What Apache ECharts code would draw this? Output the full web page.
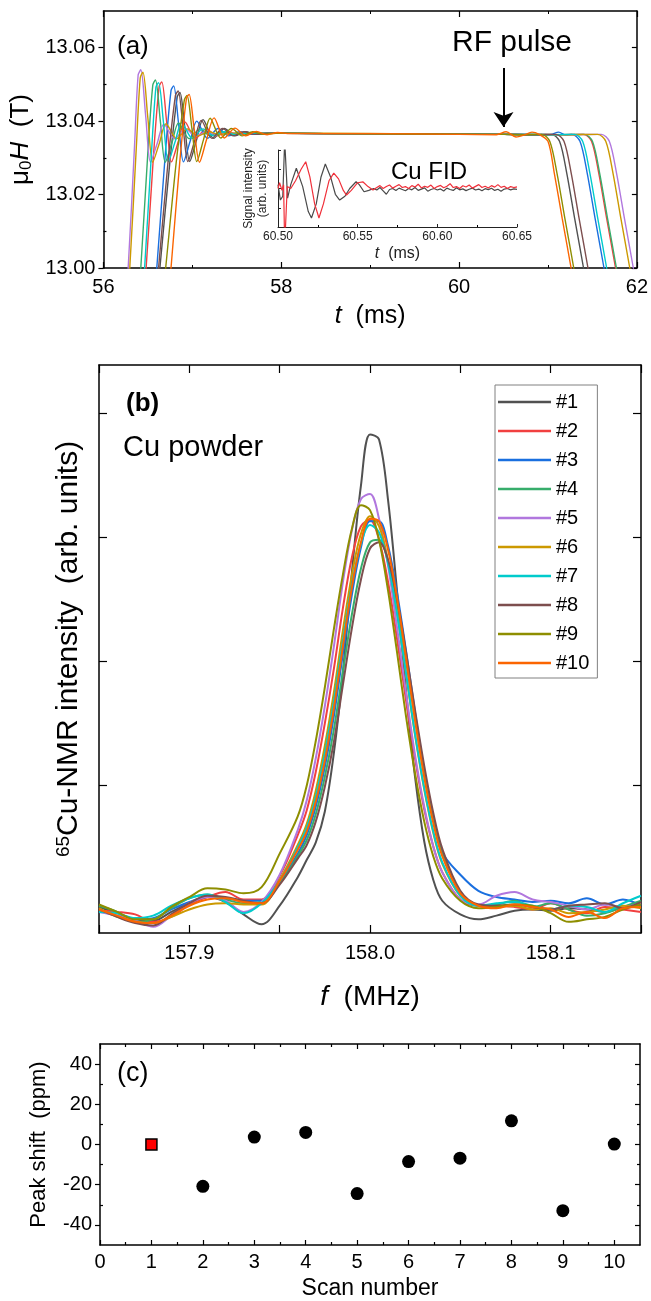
<!DOCTYPE html>
<html>
<head>
<meta charset="utf-8">
<title>Cu NMR field stability</title>
<script src="https://cdn.jsdelivr.net/npm/echarts@6/dist/echarts.min.js"></script>
<style>
	html, body { margin: 0; padding: 0; background: #fff; }
	#main { width: 651px; height: 1301px; }
</style>
</head>
<body>
<div id="main"></div>
<script>
// scan labels + colours (Origin default line palette)
var scanNames = ['#1', '#2', '#3', '#4', '#5', '#6', '#7', '#8', '#9', '#10'];
var scanColors = ['#515151', '#f14040', '#1a6fdf', '#37ad6b', '#b177de', '#cc9900', '#00cbcc', '#7d4e4e', '#8e8e00', '#fb6501'];

// (a) field pulses, [t (ms), mu0H (T)] for each scan
var sweep1 = [[56.61, 12.994], [56.635, 13.0], [56.75, 13.0296], [56.83, 13.0466], [56.86, 13.0478], [56.915, 13.0384], [56.97, 13.029], [57.045, 13.0347], [57.12, 13.0404], [57.24, 13.0353], [57.36, 13.0380], [57.48, 13.0360], [57.60, 13.0371], [57.72, 13.0364], [57.86, 13.0367], [58.5, 13.0366], [59.5, 13.0365], [60.5, 13.0364], [60.8, 13.0363], [61.04, 13.0364], [61.13, 13.0345], [61.21, 13.026], [61.30, 13.0135], [61.40, 13.0], [61.44, 12.994]];
var sweep2 = [[56.455, 12.994], [56.48, 13.0], [56.565, 13.0314], [56.626, 13.0494], [56.656, 13.0507], [56.711, 13.0398], [56.766, 13.0289], [56.841, 13.0344], [56.916, 13.0398], [57.036, 13.0353], [57.156, 13.0379], [57.276, 13.0360], [57.396, 13.0371], [57.516, 13.0364], [57.66, 13.0367], [58.5, 13.0366], [59.5, 13.0365], [60.5, 13.0364], [61.1, 13.0363], [61.40, 13.0364], [61.49, 13.0345], [61.57, 13.026], [61.66, 13.0135], [61.76, 13.0], [61.80, 12.994]];
var sweep3 = [[56.575, 12.994], [56.60, 13.0], [56.695, 13.0308], [56.76, 13.0483], [56.79, 13.0496], [56.845, 13.0393], [56.90, 13.0289], [56.975, 13.0345], [57.05, 13.0400], [57.17, 13.0353], [57.29, 13.0380], [57.41, 13.0360], [57.53, 13.0371], [57.65, 13.0364], [57.79, 13.0367], [58.5, 13.0366], [59.5, 13.0365], [60.5, 13.0364], [61.02, 13.0363], [61.12, 13.0370], [61.2, 13.0362], [61.27, 13.0364], [61.36, 13.0345], [61.44, 13.026], [61.53, 13.0135], [61.63, 13.0], [61.67, 12.994]];
var sweep4 = [[56.395, 12.994], [56.42, 13.0], [56.50, 13.0317], [56.555, 13.0498], [56.585, 13.0512], [56.64, 13.040], [56.695, 13.0288], [56.77, 13.0341], [56.845, 13.0395], [56.965, 13.0352], [57.085, 13.0379], [57.205, 13.0360], [57.325, 13.0371], [57.445, 13.0364], [57.58, 13.0367], [58.5, 13.0366], [59.5, 13.0365], [60.5, 13.0364], [61.1, 13.0363], [61.41, 13.0364], [61.50, 13.0345], [61.58, 13.026], [61.67, 13.0135], [61.77, 13.0], [61.81, 12.994]];
var sweep5 = [[56.25, 12.994], [56.278, 13.0], [56.35, 13.0335], [56.39, 13.0525], [56.42, 13.054], [56.475, 13.0414], [56.53, 13.0288], [56.605, 13.0340], [56.68, 13.0392], [56.80, 13.0352], [56.92, 13.0379], [57.04, 13.0360], [57.16, 13.0371], [57.28, 13.0364], [57.42, 13.0367], [58.5, 13.0366], [59.5, 13.0365], [60.5, 13.0364], [61.25, 13.0363], [61.6, 13.0364], [61.69, 13.0345], [61.77, 13.026], [61.86, 13.0135], [61.96, 13.0], [62.0, 12.994]];
var sweep6 = [[56.27, 12.994], [56.296, 13.0], [56.37, 13.033], [56.414, 13.0518], [56.444, 13.0533], [56.499, 13.041], [56.554, 13.0288], [56.629, 13.0340], [56.704, 13.0393], [56.824, 13.0352], [56.944, 13.0379], [57.064, 13.0360], [57.184, 13.0371], [57.304, 13.0364], [57.44, 13.0367], [58.5, 13.0367], [59.5, 13.0365], [60.5, 13.0364], [61.2, 13.0363], [61.56, 13.0364], [61.65, 13.0345], [61.73, 13.026], [61.82, 13.0135], [61.92, 13.0], [61.96, 12.994]];
var sweep7 = [[56.44, 12.994], [56.463, 13.0], [56.54, 13.0313], [56.59, 13.0492], [56.62, 13.0505], [56.675, 13.0397], [56.73, 13.029], [56.805, 13.0343], [56.88, 13.0396], [57.0, 13.0353], [57.12, 13.0379], [57.24, 13.0360], [57.36, 13.0371], [57.48, 13.0364], [57.62, 13.0367], [58.5, 13.0366], [59.5, 13.0365], [60.5, 13.0364], [61.0, 13.0363], [61.30, 13.0364], [61.39, 13.0345], [61.47, 13.026], [61.56, 13.0135], [61.66, 13.0], [61.70, 12.994]];
var sweep8 = [[56.595, 12.994], [56.62, 13.0], [56.73, 13.0299], [56.81, 13.047], [56.84, 13.0482], [56.895, 13.0386], [56.95, 13.029], [57.025, 13.0346], [57.10, 13.0402], [57.22, 13.0353], [57.34, 13.0380], [57.46, 13.0360], [57.58, 13.0371], [57.70, 13.0364], [57.84, 13.0367], [58.5, 13.0366], [59.5, 13.0365], [60.5, 13.0364], [60.85, 13.0363], [61.09, 13.0364], [61.18, 13.0345], [61.26, 13.026], [61.35, 13.0135], [61.45, 13.0], [61.49, 12.994]];
var sweep9 = [[56.675, 12.994], [56.70, 13.0], [56.82, 13.0291], [56.91, 13.0458], [56.94, 13.047], [56.995, 13.038], [57.05, 13.029], [57.125, 13.0349], [57.20, 13.0408], [57.32, 13.0354], [57.44, 13.0380], [57.56, 13.0360], [57.68, 13.0371], [57.80, 13.0364], [57.94, 13.0367], [58.5, 13.0366], [59.5, 13.0365], [60.5, 13.0364], [60.7, 13.0363], [60.93, 13.0364], [61.02, 13.0345], [61.10, 13.026], [61.19, 13.0135], [61.29, 13.0], [61.33, 12.994]];
var sweep10 = [[56.735, 12.994], [56.76, 13.0], [56.86, 13.0293], [56.933, 13.0461], [56.963, 13.0473], [57.02, 13.038], [57.08, 13.0288], [57.16, 13.035], [57.244, 13.0409], [57.36, 13.0354], [57.48, 13.0381], [57.60, 13.0360], [57.72, 13.0372], [57.84, 13.0363], [57.96, 13.0369], [58.1, 13.0366], [59.0, 13.0366], [60.0, 13.0364], [60.42, 13.0363], [60.53, 13.0371], [60.64, 13.0357], [60.73, 13.0362], [60.82, 13.0370], [60.90, 13.0364], [61.00, 13.0345], [61.07, 13.026], [61.16, 13.0135], [61.26, 13.0], [61.30, 12.994]];

// inset: Cu FID, [t (ms), signal]
var fidGray = [[60.500, 2.2], [60.5015, 1.4], [60.503, 1.6], [60.5042, 4.5], [60.5052, 4.5], [60.506, 1.5], [60.508, 2.2], [60.5115, 3.05], [60.5155, 2.1], [60.519, 0.8], [60.521, 0.47], [60.524, 1.2], [60.527, 2.6], [60.5297, 3.27], [60.533, 2.6], [60.536, 1.7], [60.5387, 1.4], [60.542, 1.6], [60.545, 2.0], [60.549, 2.35], [60.551, 2.2], [60.554, 1.83], [60.557, 1.9], [60.560, 2.0], [60.562, 1.92], [60.564, 2.05], [60.566, 1.88], [60.568, 1.7], [60.570, 1.95], [60.572, 2.0], [60.574, 1.9], [60.576, 2.02], [60.578, 1.95], [60.580, 1.88], [60.582, 2.0], [60.584, 1.93], [60.586, 2.05], [60.588, 1.9], [60.590, 1.97], [60.592, 2.03], [60.594, 1.86], [60.596, 1.95], [60.598, 2.0], [60.600, 1.92], [60.602, 1.98], [60.604, 1.87], [60.606, 2.02], [60.608, 1.95], [60.610, 1.9], [60.612, 2.04], [60.614, 1.93], [60.616, 1.98], [60.618, 1.89], [60.620, 1.96], [60.622, 2.02], [60.624, 1.92], [60.626, 1.97], [60.628, 1.88], [60.630, 1.99], [60.632, 1.94], [60.634, 2.01], [60.636, 1.9], [60.638, 1.96], [60.640, 1.86], [60.642, 1.97], [60.644, 2.0], [60.646, 1.93], [60.648, 1.98], [60.650, 1.95]];
var fidRed = [[60.500, 2.0], [60.501, 2.3], [60.5025, 1.9], [60.5035, 2.2], [60.5042, -1], [60.5052, -1], [60.5058, 2.1], [60.508, 2.0], [60.511, 2.4], [60.5145, 3.0], [60.5174, 3.39], [60.520, 2.6], [60.523, 1.2], [60.5257, 0.47], [60.5285, 1.2], [60.532, 2.4], [60.535, 2.8], [60.538, 2.5], [60.541, 1.9], [60.543, 1.66], [60.546, 1.9], [60.550, 2.3], [60.5534, 2.34], [60.5565, 2.1], [60.5596, 1.92], [60.562, 2.05], [60.564, 2.15], [60.566, 2.0], [60.568, 2.1], [60.570, 2.18], [60.572, 2.02], [60.574, 2.12], [60.576, 2.2], [60.578, 2.05], [60.580, 2.1], [60.582, 2.0], [60.584, 2.15], [60.586, 2.08], [60.588, 2.22], [60.590, 2.03], [60.592, 2.12], [60.594, 2.06], [60.596, 2.18], [60.598, 2.0], [60.600, 2.1], [60.602, 2.16], [60.604, 2.04], [60.606, 2.12], [60.608, 2.25], [60.610, 2.05], [60.612, 2.1], [60.614, 2.0], [60.616, 2.14], [60.618, 2.08], [60.620, 2.18], [60.622, 2.02], [60.624, 2.11], [60.626, 2.2], [60.628, 2.05], [60.630, 2.12], [60.632, 2.03], [60.634, 2.15], [60.636, 2.07], [60.638, 2.2], [60.640, 2.06], [60.642, 2.12], [60.644, 2.0], [60.646, 2.1], [60.648, 2.05], [60.650, 2.08]];

// (b) 65Cu NMR spectra
var freqMHz = [157.85, 157.86, 157.87, 157.88, 157.89, 157.90, 157.91, 157.92, 157.93, 157.94, 157.95, 157.96, 157.965, 157.97, 157.975, 157.98, 157.985, 157.99, 157.995, 158.00, 158.005, 158.01, 158.015, 158.02, 158.025, 158.03, 158.035, 158.04, 158.05, 158.06, 158.07, 158.08, 158.09, 158.10, 158.11, 158.12, 158.13, 158.14, 158.15];
var nmr1 = [0.02, -0.03, -0.08, -0.09, -0.02, 0.05, 0.10, 0.06, -0.04, -0.12, 0.03, 0.26, 0.40, 0.54, 0.79, 1.26, 1.91, 2.72, 3.42, 3.83, 3.79, 3.30, 2.56, 1.75, 1.06, 0.55, 0.24, 0.07, -0.04, -0.08, -0.05, -0.01, 0.0, -0.01, 0.01, 0.0, -0.02, 0.02, 0.05];
var nmr2 = [-0.01, -0.02, -0.04, -0.10, -0.06, 0.04, 0.10, 0.14, 0.08, 0.08, 0.27, 0.60, 0.80, 1.11, 1.50, 1.94, 2.43, 2.84, 3.09, 3.14, 2.98, 2.64, 2.18, 1.68, 1.21, 0.81, 0.51, 0.30, 0.08, 0.03, 0.03, 0.02, 0.0, 0.05, 0.0, -0.03, 0.02, 0.0, -0.02];
var nmr3 = [-0.01, -0.05, -0.08, -0.07, 0.0, 0.06, 0.10, 0.09, 0.07, 0.07, 0.22, 0.45, 0.60, 0.83, 1.15, 1.56, 2.06, 2.54, 2.92, 3.13, 3.13, 2.93, 2.55, 2.08, 1.58, 1.12, 0.74, 0.46, 0.28, 0.15, 0.10, 0.08, 0.06, 0.07, 0.05, 0.09, 0.04, 0.08, 0.03];
var nmr4 = [0.03, -0.02, -0.10, -0.08, 0.01, 0.09, 0.12, 0.08, 0.05, 0.06, 0.21, 0.43, 0.56, 0.77, 1.07, 1.45, 1.92, 2.38, 2.75, 2.96, 2.98, 2.80, 2.45, 2.00, 1.53, 1.09, 0.72, 0.45, 0.14, 0.03, 0.04, 0.07, 0.02, 0.05, 0.0, -0.05, -0.03, 0.02, 0.07];
var nmr5 = [-0.02, -0.05, -0.09, -0.14, -0.05, 0.05, 0.10, 0.07, -0.02, 0.06, 0.28, 0.64, 0.88, 1.22, 1.64, 2.12, 2.64, 3.06, 3.31, 3.35, 3.15, 2.77, 2.27, 1.74, 1.24, 0.83, 0.51, 0.30, 0.08, 0.04, 0.11, 0.14, 0.08, 0.06, 0.03, 0.0, 0.04, 0.02, 0.05];
var nmr6 = [0.01, -0.06, -0.10, -0.11, -0.06, 0.0, 0.04, 0.05, 0.04, 0.04, 0.24, 0.52, 0.69, 0.96, 1.32, 1.75, 2.25, 2.70, 3.03, 3.17, 3.09, 2.81, 2.39, 1.89, 1.40, 0.97, 0.62, 0.37, 0.11, 0.03, 0.02, 0.03, 0.0, 0.01, -0.03, -0.02, 0.0, 0.03, 0.01];
var nmr7 = [-0.02, -0.03, -0.07, -0.05, 0.03, 0.09, 0.12, 0.06, -0.03, 0.05, 0.23, 0.50, 0.66, 0.91, 1.26, 1.68, 2.17, 2.62, 2.95, 3.10, 3.04, 2.79, 2.38, 1.90, 1.41, 0.98, 0.63, 0.38, 0.11, 0.03, 0.05, 0.06, 0.03, 0.0, 0.03, 0.02, -0.02, 0.05, 0.11];
var nmr8 = [0.0, -0.06, -0.11, -0.13, -0.04, 0.05, 0.11, 0.10, 0.07, 0.05, 0.20, 0.41, 0.52, 0.71, 0.99, 1.35, 1.81, 2.27, 2.66, 2.91, 2.96, 2.82, 2.50, 2.07, 1.60, 1.16, 0.78, 0.49, 0.15, 0.04, 0.03, 0.04, 0.02, 0.0, 0.03, 0.04, 0.05, 0.01, 0.06];
var nmr9 = [0.04, -0.02, -0.08, -0.08, 0.02, 0.10, 0.17, 0.16, 0.13, 0.18, 0.45, 0.75, 1.00, 1.36, 1.79, 2.26, 2.70, 3.07, 3.26, 3.22, 2.98, 2.57, 2.07, 1.55, 1.09, 0.71, 0.43, 0.25, 0.07, 0.01, 0.02, 0.04, 0.03, -0.03, -0.10, -0.08, -0.06, 0.0, 0.04];
var nmr10 = [0.0, -0.05, -0.10, -0.11, -0.05, 0.03, 0.08, 0.09, 0.06, 0.05, 0.23, 0.48, 0.63, 0.87, 1.20, 1.62, 2.12, 2.60, 2.96, 3.15, 3.13, 2.90, 2.51, 2.02, 1.52, 1.07, 0.70, 0.43, 0.13, 0.03, 0.01, 0.04, 0.02, 0.0, -0.06, -0.02, -0.07, 0.01, 0.02];

// (c) peak shift per scan
var scanNumber = [1, 2, 3, 4, 5, 6, 7, 8, 9, 10];
var peakShift = [0, -20.8, 3.7, 6.0, -24.4, -8.5, -6.8, 11.8, -32.9, 0.2];

// tick positions
var fieldTicks = [13.00, 13.02, 13.04, 13.06];
var fieldMinor = [13.01, 13.03, 13.05];
var nmrTicks = [1, 2, 3, 4];
var shiftTicks = [-40, -20, 0, 20, 40];
var shiftMinor = [-30, -10, 10, 30];
var scanTicks = [0, 1, 2, 3, 4, 5, 6, 7, 8, 9, 10];
var scanMinor = [0.5, 1.5, 2.5, 3.5, 4.5, 5.5, 6.5, 7.5, 8.5, 9.5];

var font = "'Liberation Sans', Arial, sans-serif";
var black = { color: '#000', width: 1.5 };

function frame(o) {
	var ax = {
		type: 'value',
		gridIndex: o.grid,
		position: o.pos,
		min: o.min,
		max: o.max,
		axisLine: { show: o.line !== false, onZero: false, lineStyle: black },
		axisTick: { show: true, inside: o.inside !== false, length: o.tick || 6, lineStyle: { color: '#000', width: 1.2 } },
		axisLabel: { show: false },
		splitLine: { show: false }
	};
	if(o.interval) ax.interval = o.interval;
	if(o.ticks) ax.axisTick.customValues = o.ticks;
	if(o.minor) ax.minorTick = { show: true, splitNumber: 2, length: 3, lineStyle: { color: '#000', width: 1 } };
	return ax;
}

var xAxes = [];
var yAxes = [];

// (a) main field plot
var ax = frame({ grid: 0, pos: 'bottom', min: 56, max: 62, interval: 2, minor: true });
ax.axisLabel = { show: true, color: '#000', fontSize: 20, fontFamily: font, margin: 9 };
ax.name = '{i|t}  (ms)';
ax.nameLocation = 'middle';
ax.nameGap = 36;
ax.nameTextStyle = { color: '#000', fontSize: 25, fontFamily: font, rich: { i: { fontSize: 25, fontStyle: 'italic', fontFamily: font } } };
xAxes.push(ax); // 0
xAxes.push(frame({ grid: 0, pos: 'top', min: 56, max: 62, interval: 2, minor: true })); // 1

ax = frame({ grid: 0, pos: 'left', min: 13.0, max: 13.07, ticks: fieldTicks, inside: false, tick: 5 });
ax.axisLabel = { show: true, customValues: fieldTicks, color: '#000', fontSize: 20, fontFamily: font, margin: 8, formatter: function(v) { return v.toFixed(2); } };
ax.name = '{m|μ}{s|0}{i|H}  (T)';
ax.nameLocation = 'middle';
ax.nameRotate = 90;
ax.nameGap = 54;
ax.nameTextStyle = { color: '#000', fontSize: 26, fontFamily: font, rich: {
	m: { fontSize: 26, fontFamily: font },
	s: { fontSize: 17, fontFamily: font, verticalAlign: 'bottom', padding: [10, 0, 0, 0] },
	i: { fontSize: 26, fontStyle: 'italic', fontFamily: font }
} };
yAxes.push(ax); // 0
yAxes.push(frame({ grid: 0, pos: 'right', min: 13.0, max: 13.07, ticks: fieldTicks, tick: 5 })); // 1
yAxes.push(frame({ grid: 0, pos: 'left', min: 13.0, max: 13.07, ticks: fieldMinor, tick: 3, line: false })); // 2
yAxes.push(frame({ grid: 0, pos: 'right', min: 13.0, max: 13.07, ticks: fieldMinor, tick: 3, line: false })); // 3

// inset: Cu FID
ax = frame({ grid: 1, pos: 'bottom', min: 60.5, max: 60.65, interval: 0.05, tick: 3, minor: true });
ax.axisLine.lineStyle = { color: '#222', width: 1 };
ax.axisTick.lineStyle = { color: '#222', width: 1 };
ax.minorTick.length = 2;
ax.axisLabel = { show: true, color: '#222', fontSize: 12, fontFamily: font, margin: 4, formatter: function(v) { return v.toFixed(2); } };
ax.name = '{i|t}  (ms)';
ax.nameLocation = 'middle';
ax.nameGap = 19;
ax.nameTextStyle = { color: '#222', fontSize: 16, fontFamily: font, rich: { i: { fontSize: 16, fontStyle: 'italic', fontFamily: font } } };
xAxes.push(ax); // 2
ax = frame({ grid: 1, pos: 'left', min: 0, max: 4, interval: 1, tick: 3 });
ax.axisLine.lineStyle = { color: '#222', width: 1 };
ax.axisTick.lineStyle = { color: '#222', width: 1 };
ax.name = 'Signal intensity\n(arb. units)';
ax.nameLocation = 'middle';
ax.nameRotate = 90;
ax.nameGap = 8;
ax.nameTextStyle = { color: '#222', fontSize: 12, lineHeight: 14, fontFamily: font };
yAxes.push(ax); // 4

// (b) NMR spectra
ax = frame({ grid: 2, pos: 'bottom', min: 157.85, max: 158.15, interval: 0.05, tick: 8 });
ax.axisLabel = { show: true, color: '#000', fontSize: 20, fontFamily: font, margin: 10, formatter: function(v) {
	return Math.round(v * 100) % 10 === 0 ? v.toFixed(1) : '';
} };
ax.name = '{i|f}  (MHz)';
ax.nameLocation = 'middle';
ax.nameGap = 50;
ax.nameTextStyle = { color: '#000', fontSize: 28, fontFamily: font, rich: { i: { fontSize: 28, fontStyle: 'italic', fontFamily: font } } };
xAxes.push(ax); // 3
xAxes.push(frame({ grid: 2, pos: 'top', min: 157.85, max: 158.15, interval: 0.05, tick: 8 })); // 4

ax = frame({ grid: 2, pos: 'left', min: -0.19, max: 4.39, ticks: nmrTicks, tick: 8 });
ax.name = '{sup|65}Cu-NMR intensity  (arb. units)';
ax.nameLocation = 'middle';
ax.nameRotate = 90;
ax.nameGap = 15;
ax.nameTextStyle = { color: '#000', fontSize: 30, fontFamily: font, rich: { sup: { fontSize: 19, fontFamily: font, verticalAlign: 'top', padding: [0, 0, 11, 0] } } };
yAxes.push(ax); // 5
yAxes.push(frame({ grid: 2, pos: 'right', min: -0.19, max: 4.39, ticks: nmrTicks, tick: 8 })); // 6

// (c) peak shift
ax = frame({ grid: 3, pos: 'bottom', min: 0, max: 10.5, ticks: scanTicks, tick: 5 });
ax.axisLabel = { show: true, customValues: scanTicks, color: '#000', fontSize: 20, fontFamily: font, margin: 7 };
ax.name = 'Scan number';
ax.nameLocation = 'middle';
ax.nameGap = 32;
ax.nameTextStyle = { color: '#000', fontSize: 23, fontFamily: font };
xAxes.push(ax); // 5
xAxes.push(frame({ grid: 3, pos: 'top', min: 0, max: 10.5, ticks: scanTicks, tick: 5 })); // 6
xAxes.push(frame({ grid: 3, pos: 'bottom', min: 0, max: 10.5, ticks: scanMinor, tick: 3, line: false })); // 7
xAxes.push(frame({ grid: 3, pos: 'top', min: 0, max: 10.5, ticks: scanMinor, tick: 3, line: false })); // 8

ax = frame({ grid: 3, pos: 'left', min: -50, max: 50, ticks: shiftTicks, inside: false, tick: 5 });
ax.axisLabel = { show: true, customValues: shiftTicks, color: '#000', fontSize: 20, fontFamily: font, margin: 8 };
ax.name = 'Peak shift  (ppm)';
ax.nameLocation = 'middle';
ax.nameRotate = 90;
ax.nameGap = 50;
ax.nameTextStyle = { color: '#000', fontSize: 22, fontFamily: font };
yAxes.push(ax); // 7
yAxes.push(frame({ grid: 3, pos: 'right', min: -50, max: 50, ticks: shiftTicks, tick: 5 })); // 8
yAxes.push(frame({ grid: 3, pos: 'left', min: -50, max: 50, ticks: shiftMinor, tick: 3, line: false })); // 9
yAxes.push(frame({ grid: 3, pos: 'right', min: -50, max: 50, ticks: shiftMinor, tick: 3, line: false })); // 10

// series
var series = [];
var sweeps = [sweep1, sweep2, sweep3, sweep4, sweep5, sweep6, sweep7, sweep8, sweep9, sweep10];
sweeps.forEach(function(item, index) {
	series.push({
		name: 'pulse ' + scanNames[index],
		type: 'line',
		xAxisIndex: 0,
		yAxisIndex: 0,
		data: item,
		smooth: 0.3,
		symbol: 'none',
		lineStyle: { width: 1.4, color: scanColors[index] },
		itemStyle: { color: scanColors[index] }
	});
});
// RF pulse arrow
series[9].markLine = {
	silent: true,
	symbol: ['none', 'arrow'],
	symbolSize: 15,
	label: { show: false },
	lineStyle: { color: '#000', width: 2, type: 'solid' },
	data: [[{ coord: [60.5, 13.0545] }, { coord: [60.5, 13.0384] }]]
};

series.push({
	type: 'line', xAxisIndex: 2, yAxisIndex: 4, data: fidGray, symbol: 'none',
	lineStyle: { width: 1.2, color: '#4a4a4a' }, itemStyle: { color: '#4a4a4a' }
});
series.push({
	type: 'line', xAxisIndex: 2, yAxisIndex: 4, data: fidRed, symbol: 'none',
	lineStyle: { width: 1.2, color: '#f0303a' }, itemStyle: { color: '#f0303a' }
});

var spectra = [nmr1, nmr2, nmr3, nmr4, nmr5, nmr6, nmr7, nmr8, nmr9, nmr10];
spectra.forEach(function(item, index) {
	series.push({
		name: scanNames[index],
		type: 'line',
		xAxisIndex: 3,
		yAxisIndex: 5,
		data: freqMHz.map(function(f, j) { return [f, item[j]]; }),
		smooth: 0.35,
		symbol: 'none',
		lineStyle: { width: 2, color: scanColors[index] },
		itemStyle: { color: scanColors[index] }
	});
});

series.push({
	type: 'scatter', xAxisIndex: 5, yAxisIndex: 7,
	data: [[scanNumber[0], peakShift[0]]],
	symbol: 'rect', symbolSize: 11,
	itemStyle: { color: '#ff0000', borderColor: '#000', borderWidth: 1.5, opacity: 1 }
});
series.push({
	type: 'scatter', xAxisIndex: 5, yAxisIndex: 7,
	data: scanNumber.slice(1).map(function(n, i) { return [n, peakShift[i + 1]]; }),
	symbol: 'circle', symbolSize: 13,
	itemStyle: { color: '#000', opacity: 1 }
});

function label(text, x, y, size, weight) {
	return {
		type: 'text', x: x, y: y, silent: true,
		style: { text: text, fill: '#000', fontSize: size, fontFamily: font, fontWeight: weight || 'normal', align: 'left', verticalAlign: 'middle' }
	};
}

var chart = echarts.init(document.getElementById('main'));
chart.setOption({
	animation: false,
	backgroundColor: '#fff',
	grid: [
		{ left: 100, top: 11, width: 540, height: 257 },
		{ left: 278, top: 150, width: 239, height: 77 },
		{ left: 99, top: 365, width: 542, height: 568 },
		{ left: 100, top: 1044, width: 540, height: 205 }
	],
	xAxis: xAxes,
	yAxis: yAxes,
	legend: {
		data: scanNames,
		orient: 'vertical',
		left: 495,
		top: 385,
		icon: 'rect',
		itemWidth: 53,
		itemHeight: 2.5,
		itemGap: 9,
		padding: [7, 8, 5, 3],
		borderColor: '#808080',
		borderWidth: 1,
		selectedMode: false,
		textStyle: { color: '#000', fontSize: 20, fontFamily: font }
	},
	graphic: [
		label('(a)', 117, 47, 26),
		label('RF pulse', 452, 43, 30),
		label('Cu FID', 391, 172, 24),
		label('(b)', 126, 404, 26, 'bold'),
		label('Cu powder', 123, 448, 29),
		label('(c)', 117, 1074, 27)
	],
	series: series
});
</script>
</body>
</html>
